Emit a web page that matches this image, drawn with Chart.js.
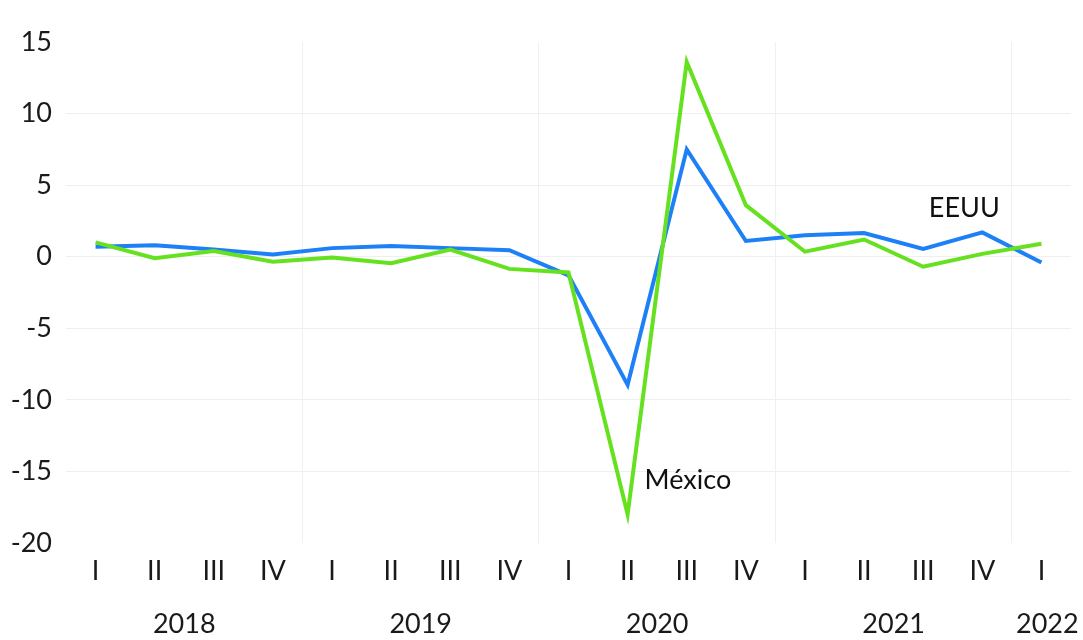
<!DOCTYPE html>
<html>
<head>
<meta charset="utf-8">
<script src="https://cdn.jsdelivr.net/npm/chart.js@4.4.1/dist/chart.umd.min.js"></script>
<style>
  body { margin: 0; background: #fff; }
  #wrap { width: 1083px; height: 640px; }
</style>
</head>
<body>
<div id="wrap"><canvas id="chart" width="1083" height="640"></canvas></div>
<script>
// trimestres 2018 I .. 2022 I
const quarters = ['I', 'II', 'III', 'IV', 'I', 'II', 'III', 'IV', 'I', 'II', 'III', 'IV', 'I', 'II', 'III', 'IV', 'I'];
const mexico = [1.0, -0.1, 0.4, -0.35, -0.05, -0.45, 0.5, -0.85, -1.1, -18.0, 13.6, 3.6, 0.35, 1.2, -0.7, 0.2, 0.9];
const eeuu = [0.7, 0.8, 0.5, 0.15, 0.6, 0.75, 0.6, 0.45, -1.3, -8.95, 7.5, 1.1, 1.5, 1.65, 0.55, 1.7, -0.4];
const years = ['2018', '2019', '2020', '2021', '2022'];
const yearPos = [1.5, 5.5, 9.5, 13.5, 16.1];
const yTicks = [-20, -15, -10, -5, 0, 5, 10, 15];

const FONT = 'Lato, "Open Sans", sans-serif';

// etiquetas de las series junto a un punto
const seriesLabels = {
    id: 'seriesLabels',
    afterDatasetsDraw(chart) {
        const ctx = chart.ctx;
        const x = chart.scales.x, y = chart.scales.y;
        ctx.save();
        ctx.font = '27px ' + FONT;
        ctx.fillStyle = '#111';
        ctx.textBaseline = 'middle';
        ctx.textAlign = 'left';
        ctx.fillText('México', x.getPixelForValue(9) + 17, y.getPixelForValue(mexico[9]) - 34);
        ctx.textAlign = 'center';
        ctx.fillText('EEUU', x.getPixelForValue(15) - 18, y.getPixelForValue(eeuu[15]) - 24);
        ctx.restore();
    }
};

new Chart(document.getElementById('chart').getContext('2d'), {
    type: 'line',
    data: {
        labels: quarters,
        datasets: [
            {
                label: 'México',
                data: mexico,
                borderColor: '#66e11f',
                borderWidth: 4,
                pointRadius: 0,
                tension: 0
            },
            {
                label: 'EEUU',
                data: eeuu,
                borderColor: '#1e80f7',
                borderWidth: 4,
                pointRadius: 0,
                tension: 0
            }
        ]
    },
    options: {
        responsive: false,
        animation: false,
        layout: { padding: { top: 42, right: 12, bottom: 0, left: 0 } },
        plugins: {
            legend: { display: false },
            tooltip: { enabled: false }
        },
        scales: {
            x: {
                type: 'category',
                offset: true,
                border: { display: false },
                grid: {
                    offset: true,
                    drawTicks: false,
                    lineWidth: 1,
                    color: (c) => (c.index > 0 && c.index < 17 && c.index % 4 === 0) ? '#f0f0f0' : 'rgba(0,0,0,0)'
                },
                ticks: {
                    padding: 12,
                    color: '#1a1a1a',
                    font: { family: FONT, size: 27 },
                    maxRotation: 0,
                    autoSkip: false
                },
                afterFit: (s) => { s.height = 44; s.paddingLeft = 0; s.paddingRight = 0; }
            },
            years: {
                type: 'linear',
                position: 'bottom',
                min: -0.5,
                max: 16.5,
                border: { display: false },
                grid: { display: false, drawTicks: false },
                afterBuildTicks: (s) => { s.ticks = yearPos.map(v => ({ value: v })); },
                ticks: {
                    padding: 21,
                    color: '#1a1a1a',
                    font: { family: FONT, size: 27 },
                    maxRotation: 0,
                    autoSkip: false,
                    callback: (v) => years[yearPos.indexOf(v)]
                },
                afterFit: (s) => { s.height = 53; s.paddingLeft = 0; s.paddingRight = 0; }
            },
            y: {
                min: -20,
                max: 15,
                border: { display: false },
                afterBuildTicks: (s) => { s.ticks = yTicks.map(v => ({ value: v })); },
                grid: {
                    drawTicks: false,
                    color: (c) => (c.tick.value === -20 || c.tick.value === 15) ? 'rgba(0,0,0,0)' : '#efefef'
                },
                ticks: {
                    padding: 14,
                    color: '#1a1a1a',
                    font: { family: FONT, size: 27 }
                },
                afterFit: (s) => { s.width = 66; s.paddingTop = 0; s.paddingBottom = 0; }
            }
        }
    },
    plugins: [seriesLabels]
});
</script>
</body>
</html>
